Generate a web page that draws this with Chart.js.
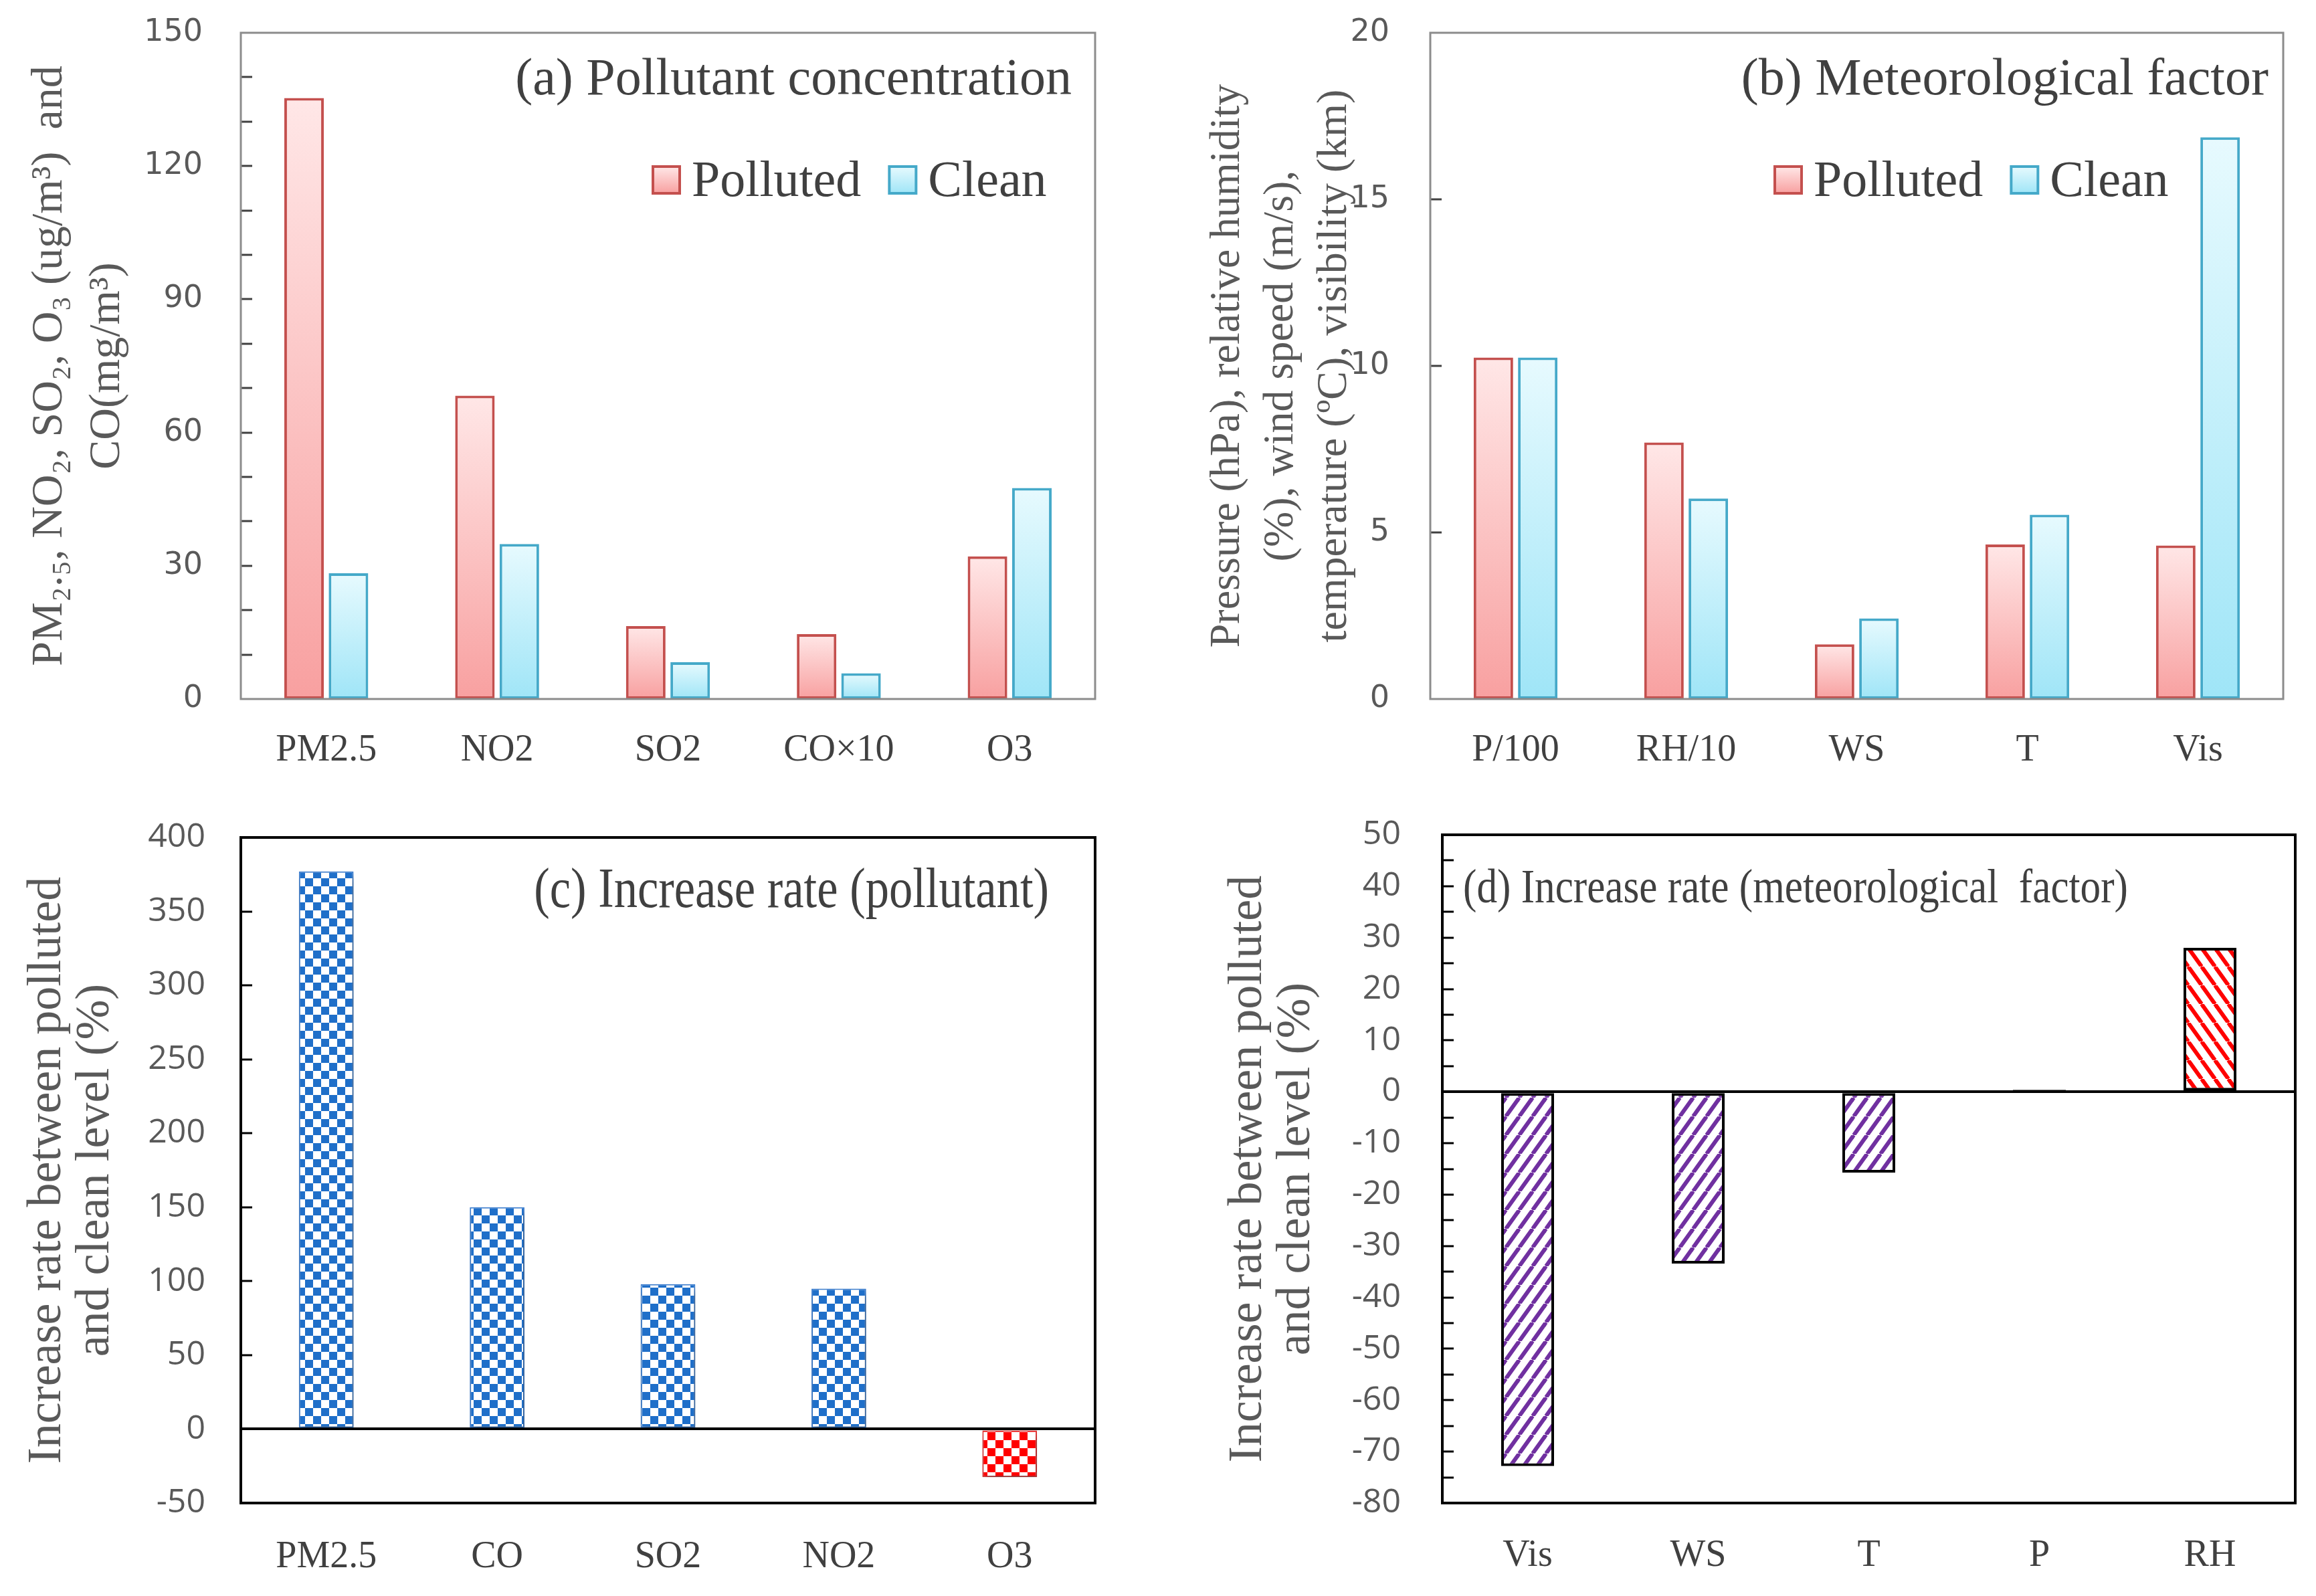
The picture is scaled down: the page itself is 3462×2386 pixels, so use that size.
<!DOCTYPE html>
<html lang="en">
<head>
<meta charset="UTF-8">
<title>Polluted vs clean conditions</title>
<script src="https://cdn.jsdelivr.net/npm/chart.js"></script>
<style>
    html, body { margin: 0; padding: 0; background: #fff; }
    #page { position: relative; width: 3462px; height: 2386px; background: #fff; }
    .panel { position: absolute; width: 1731px; height: 1193px; }
</style>
</head>
<body>
<div id="page">
    <div class="panel" style="left:0;top:0"><canvas id="chartA" width="1731" height="1193"></canvas></div>
    <div class="panel" style="left:1731px;top:0"><canvas id="chartB" width="1731" height="1193"></canvas></div>
    <div class="panel" style="left:0;top:1193px"><canvas id="chartC" width="1731" height="1193"></canvas></div>
    <div class="panel" style="left:1731px;top:1193px"><canvas id="chartD" width="1731" height="1193"></canvas></div>
</div>
<script>
// (a) pollutant concentration
const pollutantLabels = ['PM2.5', 'NO2', 'SO2', 'CO×10', 'O3'];
const pollutedConc = [135.3, 68.3, 16.4, 14.6, 32.1];
const cleanConc = [28.3, 34.9, 8.3, 5.8, 47.5];

// (b) meteorological factors
const meteoLabels = ['P/100', 'RH/10', 'WS', 'T', 'Vis'];
const pollutedMeteo = [10.25, 7.7, 1.64, 4.64, 4.61];
const cleanMeteo = [10.25, 6.02, 2.42, 5.53, 16.86];

// (c) increase rate, pollutants
const rateLabels = ['PM2.5', 'CO', 'SO2', 'NO2', 'O3'];
const pollutantRate = [377, 150, 98, 95, -32.5];

// (d) increase rate, meteorological factors
const meteoRateLabels = ['Vis', 'WS', 'T', 'P', 'RH'];
const meteoRate = [-72.8, -33.4, -15.7, 0.4, 28];

const serif = 'Liberation Serif';
const redFill = ['#ffe7e7', '#f8a0a0'];
const blueFill = ['#e7fafe', '#9fe5f7'];

Chart.defaults.font.family = serif;
Chart.defaults.animation = false;

function barGradient(c, stops) {
    const chart = c.chart;
    if (!chart.chartArea || c.type !== 'data') return stops[1];
    const y = chart.scales.y;
    const top = y.getPixelForValue(c.raw);
    const base = y.getPixelForValue(0);
    const g = chart.ctx.createLinearGradient(0, top, 0, base);
    g.addColorStop(0, stops[0]);
    g.addColorStop(1, stops[1]);
    return g;
}

function checker(color) {
    const s = 12;
    const cv = document.createElement('canvas');
    cv.width = cv.height = s * 2;
    const g = cv.getContext('2d');
    g.fillStyle = '#fff';
    g.fillRect(0, 0, s * 2, s * 2);
    g.fillStyle = color;
    g.fillRect(0, 0, s, s);
    g.fillRect(s, s, s, s);
    return g.createPattern(cv, 'repeat');
}

function stripes(color, dir) {
    const w = 20, h = 28;
    const cv = document.createElement('canvas');
    cv.width = w; cv.height = h;
    const g = cv.getContext('2d');
    g.fillStyle = '#fff';
    g.fillRect(0, 0, w, h);
    g.strokeStyle = color;
    g.lineWidth = 6;
    for (const dx of [-w, 0, w]) {
        g.beginPath();
        if (dir > 0) { g.moveTo(dx, h); g.lineTo(dx + w, 0); }
        else { g.moveTo(dx, 0); g.lineTo(dx + w, h); }
        g.stroke();
    }
    return g.createPattern(cv, 'repeat');
}

// frame, inner tick marks, panel title and in-plot legend
const panelDecor = {
    id: 'panelDecor',
    beforeDatasetsDraw(chart, args, opts) {
        if (opts.shadow) {
            const ctx = chart.ctx;
            ctx.save();
            ctx.shadowColor = 'rgba(0,0,0,0.35)';
            ctx.shadowBlur = 10;
            ctx.shadowOffsetX = 3;
            ctx.shadowOffsetY = 8;
        }
    },
    afterDatasetsDraw(chart, args, opts) {
        const ctx = chart.ctx;
        if (opts.shadow) ctx.restore();
        const a = chart.chartArea;
        const y = chart.scales.y;
        ctx.save();

        ctx.strokeStyle = opts.tickColor;
        ctx.lineWidth = 3;
        const step = opts.minorStep || y.options.ticks.stepSize;
        for (let v = y.min + step; v < y.max - 1e-9; v += step) {
            const py = Math.round(y.getPixelForValue(v));
            ctx.beginPath();
            ctx.moveTo(a.left, py);
            ctx.lineTo(a.left + 17, py);
            ctx.stroke();
        }

        ctx.strokeStyle = opts.frameColor;
        ctx.lineWidth = opts.frameWidth;
        ctx.strokeRect(a.left, a.top, a.right - a.left, a.bottom - a.top);

        const t = opts.title;
        ctx.fillStyle = '#404040';
        ctx.textBaseline = 'middle';
        ctx.font = t.size + 'px "' + serif + '"';
        ctx.save();
        const tx = t.align === 'right' ? a.right - t.dx : a.left + t.dx;
        ctx.translate(tx, a.top + t.dy);
        ctx.scale(t.sx || 1, 1);
        ctx.textAlign = t.align;
        ctx.fillText(t.text, 0, 0);
        ctx.restore();

        if (opts.legend) {
            let x = a.left + opts.legend.x;
            const cy = a.top + opts.legend.y;
            const box = 40;
            ctx.font = '76px "' + serif + '"';
            ctx.textAlign = 'left';
            chart.data.datasets.forEach(ds => {
                const g = ctx.createLinearGradient(0, cy - box / 2, 0, cy + box / 2);
                g.addColorStop(0, ds.stops[0]);
                g.addColorStop(1, ds.stops[1]);
                ctx.fillStyle = g;
                ctx.fillRect(x, cy - box / 2, box, box);
                ctx.strokeStyle = ds.borderColor;
                ctx.lineWidth = 4;
                ctx.strokeRect(x, cy - box / 2, box, box);
                ctx.fillStyle = '#404040';
                ctx.fillText(ds.label, x + box + 18, cy + 4);
                x += box + 18 + ctx.measureText(ds.label).width + 42;
            });
        }
        ctx.restore();
    }
};

function baseOptions(p) {
    return {
        responsive: false,
        devicePixelRatio: 1,
        layout: { padding: { left: 0, top: p.top, right: 1731 - p.right, bottom: 0 } },
        plugins: {
            legend: { display: false },
            tooltip: { enabled: false },
            panelDecor: p.decor
        },
        scales: {
            x: {
                grid: { display: false },
                border: { display: false },
                ticks: { color: '#404040', padding: p.xPad, font: { family: serif, size: 56 } },
                afterFit: s => {
                    s.height = 1193 - p.bottom;
                    s.paddingLeft = s.paddingRight = 0;
                }
            },
            y: {
                min: p.min, max: p.max,
                grid: p.zeroLine ? {
                    drawTicks: false,
                    lineWidth: 4,
                    color: c => (c.tick && c.tick.value === 0 ? '#000' : 'rgba(0,0,0,0)')
                } : { display: false, drawTicks: false },
                border: { display: false },
                ticks: {
                    stepSize: p.step,
                    maxTicksLimit: 30,
                    padding: p.yPad,
                    color: '#595959',
                    font: p.tickFont
                },
                title: {
                    display: true,
                    text: p.yTitle,
                    color: '#595959',
                    font: { family: serif, size: p.yTitleSize, lineHeight: p.yTitleLH },
                    padding: { top: p.yTitlePad, bottom: 0 }
                },
                afterFit: s => {
                    s.width = p.left;
                    s.paddingTop = s.paddingBottom = 0;
                }
            }
        }
    };
}

new Chart(document.getElementById('chartA'), {
    type: 'bar',
    data: {
        labels: pollutantLabels,
        datasets: [
            { label: 'Polluted', data: pollutedConc, stops: redFill, backgroundColor: c => barGradient(c, redFill),
              borderColor: '#c4504e', borderWidth: 4, borderSkipped: false, categoryPercentage: 0.52, barPercentage: 0.89 },
            { label: 'Clean', data: cleanConc, stops: blueFill, backgroundColor: c => barGradient(c, blueFill),
              borderColor: '#45a9c9', borderWidth: 4, borderSkipped: false, categoryPercentage: 0.52, barPercentage: 0.89 }
        ]
    },
    options: baseOptions({
        left: 360, right: 1637, top: 49, bottom: 1045, min: 0, max: 150, step: 30,
        xPad: 36, yPad: 57, tickFont: { family: 'DejaVu Sans', size: 46 },
        yTitle: ['PM₂.₅, NO₂, SO₂, O₃ (ug/m³)  and', 'CO(mg/m³)'],
        yTitleSize: 66, yTitleLH: 1.3, yTitlePad: 32,
        decor: {
            frameColor: '#8c8c8c', frameWidth: 3, tickColor: '#404040', minorStep: 10,
            title: { text: '(a) Pollutant concentration', size: 78, align: 'right', dx: 35, dy: 72 },
            legend: { x: 616, y: 220 }
        }
    }),
    plugins: [panelDecor]
});

new Chart(document.getElementById('chartB'), {
    type: 'bar',
    data: {
        labels: meteoLabels,
        datasets: [
            { label: 'Polluted', data: pollutedMeteo, stops: redFill, backgroundColor: c => barGradient(c, redFill),
              borderColor: '#c4504e', borderWidth: 4, borderSkipped: false, categoryPercentage: 0.52, barPercentage: 0.89 },
            { label: 'Clean', data: cleanMeteo, stops: blueFill, backgroundColor: c => barGradient(c, blueFill),
              borderColor: '#45a9c9', borderWidth: 4, borderSkipped: false, categoryPercentage: 0.52, barPercentage: 0.89 }
        ]
    },
    options: baseOptions({
        left: 407, right: 1682, top: 49, bottom: 1045, min: 0, max: 20, step: 5,
        xPad: 36, yPad: 61, tickFont: { family: 'DejaVu Sans', size: 46 },
        yTitle: ['Pressure (hPa), relative humidity', '(%), wind speed (m/s),', 'temperature (ºC), visibility (km)'],
        yTitleSize: 64, yTitleLH: 1.25, yTitlePad: 64,
        decor: {
            frameColor: '#8c8c8c', frameWidth: 3, tickColor: '#404040',
            title: { text: '(b) Meteorological factor', size: 78, align: 'right', dx: 22, dy: 72 },
            legend: { x: 515, y: 220 }
        }
    }),
    plugins: [panelDecor]
});

const blueChk = checker('#1f6fc9');
const redChk = checker('#ff0000');
new Chart(document.getElementById('chartC'), {
    type: 'bar',
    data: {
        labels: rateLabels,
        datasets: [{
            label: 'Increase rate',
            data: pollutantRate,
            backgroundColor: pollutantRate.map(v => (v < 0 ? redChk : blueChk)),
            borderColor: pollutantRate.map(v => (v < 0 ? '#e03030' : '#3f7fcf')),
            borderWidth: 2, borderSkipped: false,
            categoryPercentage: 0.32, barPercentage: 1
        }]
    },
    options: baseOptions({
        left: 360, right: 1637, top: 59, bottom: 1054, min: -50, max: 400, step: 50, zeroLine: true,
        xPad: 40, yPad: 53, tickFont: { family: 'Open Sans', size: 50 },
        yTitle: ['Increase rate between polluted', 'and clean level (%)'],
        yTitleSize: 72, yTitleLH: 1.0, yTitlePad: 35,
        decor: {
            frameColor: '#000', frameWidth: 4, tickColor: '#000', shadow: true,
            title: { text: '(c) Increase rate (pollutant)', size: 84, sx: 0.84, align: 'right', dx: 69, dy: 82 }
        }
    }),
    plugins: [panelDecor]
});

const purpleStr = stripes('#7030a0', 1);
const redStr = stripes('#ff0000', -1);
new Chart(document.getElementById('chartD'), {
    type: 'bar',
    data: {
        labels: meteoRateLabels,
        datasets: [{
            label: 'Increase rate',
            data: meteoRate,
            backgroundColor: meteoRate.map(v => (v > 5 ? redStr : purpleStr)),
            borderColor: '#000',
            borderWidth: 4, borderSkipped: false,
            categoryPercentage: 0.31, barPercentage: 1
        }]
    },
    options: baseOptions({
        left: 425, right: 1700, top: 55, bottom: 1054, min: -80, max: 50, step: 10, zeroLine: true,
        xPad: 38, yPad: 62, tickFont: { family: 'Open Sans', size: 50 },
        yTitle: ['Increase rate between polluted', 'and clean level (%)'],
        yTitleSize: 72, yTitleLH: 1.0, yTitlePad: 99,
        decor: {
            frameColor: '#000', frameWidth: 4, tickColor: '#000', minorStep: 5,
            title: { text: '(d) Increase rate (meteorological  factor)', size: 72, sx: 0.85, align: 'left', dx: 31, dy: 82 }
        }
    }),
    plugins: [panelDecor]
});
</script>
</body>
</html>
